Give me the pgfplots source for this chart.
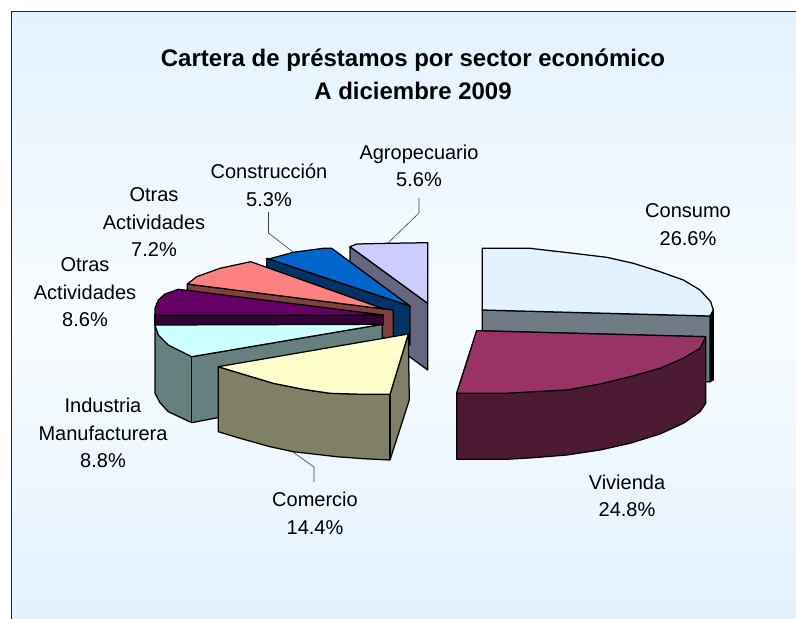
\documentclass[border=0pt]{standalone}
\usepackage{fontspec}
\setmainfont{Liberation Sans}
\usepackage{pgfplots}
\pgfplotsset{compat=1.18}
\definecolor{bgend}{HTML}{E3F2FF}
\definecolor{bgmid}{HTML}{F8FCFF}
\definecolor{cCons}{HTML}{E3F2FF}
\definecolor{cConsS}{HTML}{717B85}
\definecolor{cViv}{HTML}{993366}
\definecolor{cVivS}{HTML}{4D1A33}
\definecolor{cCom}{HTML}{FFFFCC}
\definecolor{cComS}{HTML}{808066}
\definecolor{cInd}{HTML}{CCFFFF}
\definecolor{cIndS}{HTML}{668080}
\definecolor{cOt}{HTML}{660066}
\definecolor{cOtS}{HTML}{330033}
\definecolor{cOd}{HTML}{FF8080}
\definecolor{cOdS}{HTML}{804040}
\definecolor{cCon}{HTML}{0066CC}
\definecolor{cConS}{HTML}{003366}
\definecolor{cAgr}{HTML}{CCCCFF}
\definecolor{cAgrS}{HTML}{666680}
\tikzset{
  slice/.style={draw=black, line width=1.25pt, line join=round, fill=#1},
  lab/.style={align=center, text=black, font=\fontsize{20}{27.5}\selectfont},
  lead/.style={draw=black!75, line width=0.6pt},
}
\begin{document}
\begin{tikzpicture}
\begin{axis}[
  scale only axis, width=796pt, height=619pt,
  xmin=0, xmax=796, ymin=0, ymax=619, y dir=reverse,
  hide axis, no markers,
]
% page and background
\addplot[draw=none, fill=white] coordinates {(0,0)(796,0)(796,619)(0,619)} --cycle;
\addplot[draw=none, top color=bgend, bottom color=bgend, middle color=bgmid]
  coordinates {(11.5,11.5)(796,11.5)(796,619)(11.5,619)} --cycle;
\addplot[draw=black!85, line width=1.1pt] coordinates {(11.5,619)(11.5,11.5)(796,11.5)};
% leaders
\addplot[lead] coordinates {(419,198)(419,213)(388,243)};
\addplot[lead] coordinates {(268.5,212)(268.5,233)(293,252)};
\addplot[lead] coordinates {(293,452)(314,467)(314,482)};
% Agropecuario
\addplot[slice=cAgrS] coordinates {(350,246.7)(427.7,303.3)(427.7,370)(350,313)} --cycle;
\addplot[slice=cAgr] coordinates {(350,246.7)(356.7,244)(388.3,243.3)(427.7,242.7)(427.7,303.3)} --cycle;
% Construccion
\addplot[slice=cConS] coordinates {(266.7,258.3)(410,306)(410,345)(266.7,267)} --cycle;
\addplot[slice=cCon] coordinates {(269,259)(293.3,252.3)(323.3,248.3)(331.7,248.3)(410,306)} --cycle;
% Otras actividades 7.2
\addplot[slice=cOdS] coordinates {(187.3,284)(393.3,310)(393.3,340)(187.3,290)} --cycle;
\addplot[slice=cOd] coordinates {(187.3,284)(196.7,276.7)(220,268.3)(250.7,261.7)(384,309)} --cycle;
% Otras actividades 8.6
\addplot[slice=cOtS] coordinates {(155,315)(383.3,315)(383.3,325)(155,325)} --cycle;
\addplot[slice=cOt] coordinates {(155,308.3)(158.3,300)(165,294)(178.3,289.3)(383.3,315)(155,315)} --cycle;
% Industria
\addplot[slice=cIndS] coordinates {(155,325)(155,393.3)(160,402.7)(168.3,411.7)(191.7,422.7)(382.3,386)(382.3,324.3)(191.7,356.7)} --cycle;
\addplot[slice=cIndS] coordinates {(191.7,356.7)(191.7,422.7)} ;
\addplot[slice=cInd] coordinates {(155,325)(158.3,335)(168.3,345)(191.7,356.7)(382.3,324.3)} --cycle;
% Comercio
\addplot[slice=cComS] coordinates {(218.3,366.7)(218.3,431.7)(240,438.3)(270,446.7)(293.3,451.7)(336.7,456.7)(363.3,458.7)(390,460)(409.3,400)(408.3,334)(390,394.3)(363.3,394.3)(330,393.3)(303.3,389.3)(273.3,383.3)(240,373.3)} --cycle;
\addplot[slice=cComS] coordinates {(390,394.3)(390,460)};
\addplot[slice=cCom] coordinates {(218.3,366.7)(240,373.3)(273.3,383.3)(303.3,389.3)(330,393.3)(363.3,394.3)(390,394.3)(408.3,334)} --cycle;
% Consumo
\addplot[draw=black, line width=1.1pt, fill=black] coordinates {(710,316)(713.3,310)(713.3,380)(710,381.7)} --cycle;
\addplot[slice=cConsS] coordinates {(482.3,310)(710,316)(710,381.7)(482.3,377)} --cycle;
\addplot[slice=cCons] coordinates {(482.3,248.3)(530,248.3)(573.3,253.3)(606.7,257.3)(633.3,263.3)(660,271.7)(683.3,280)(700,290)(710.7,301.7)(713.3,310)(710,316)(482.3,310)} --cycle;
% Vivienda
\addplot[slice=cVivS] coordinates {(456.7,393.3)(456.7,459.3)(506.7,459.3)(533.3,457.7)(566.7,455)(600,450)(630,443.3)(660,434)(683.3,423.3)(700,411.7)(705.7,403.3)(705.7,336.7)(476.7,330.7)} --cycle;
\addplot[slice=cViv] coordinates {(476.7,330.7)(705.7,336.7)(700,348.3)(683.3,358.3)(660,368.3)(630,376.7)(600,384)(566.7,390)(533.3,391.7)(506.7,393.3)(456.7,393.3)} --cycle;
% text
\node[align=center, font=\fontsize{24}{33}\bfseries\selectfont] at (axis cs:413,74.5) {Cartera de préstamos por sector económico\\A diciembre 2009};
\node[lab] at (axis cs:419,166) {Agropecuario\\5.6\%};
\node[lab] at (axis cs:269,185) {Construcción\\5.3\%};
\node[lab] at (axis cs:154,222.5) {Otras\\Actividades\\7.2\%};
\node[lab] at (axis cs:85,292.5) {Otras\\Actividades\\8.6\%};
\node[lab] at (axis cs:103,433) {Industria\\Manufacturera\\8.8\%};
\node[lab] at (axis cs:315,513.5) {Comercio\\14.4\%};
\node[lab] at (axis cs:627,496) {Vivienda\\24.8\%};
\node[lab] at (axis cs:688,224.5) {Consumo\\26.6\%};
\end{axis}
\end{tikzpicture}
\end{document}
